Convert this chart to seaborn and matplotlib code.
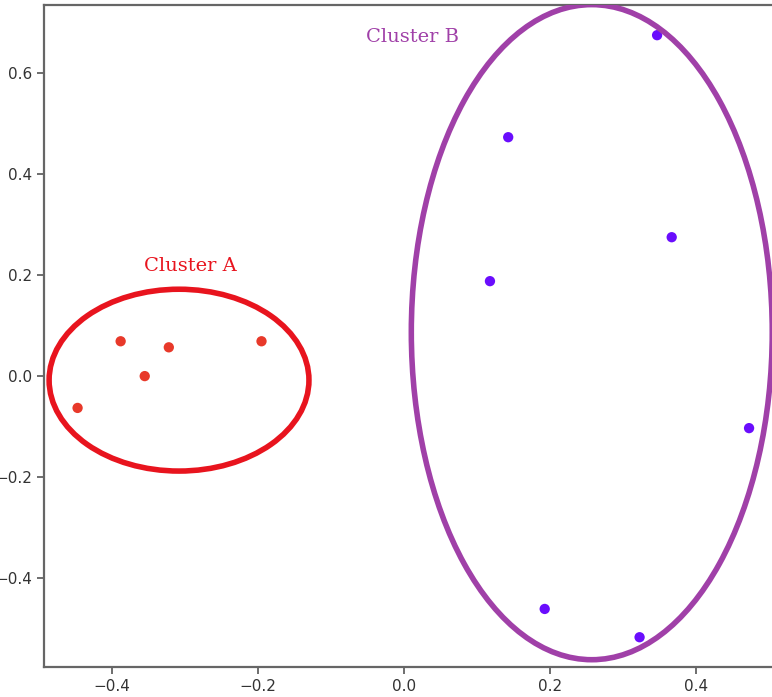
import numpy as np
import pandas as pd
import matplotlib
matplotlib.use("Agg")
import matplotlib.pyplot as plt
import seaborn as sns
from matplotlib.patches import Ellipse

# cluster points
a_x = [-0.447, -0.388, -0.355, -0.322, -0.195]
a_y = [-0.063, 0.069, 0.000, 0.057, 0.069]
b_x = [0.347, 0.143, 0.367, 0.118, 0.473, 0.193, 0.323]
b_y = [0.675, 0.473, 0.275, 0.188, -0.103, -0.461, -0.517]
cluster_names = ["Cluster A", "Cluster B"]

df = pd.DataFrame({
    "x": a_x + b_x,
    "y": a_y + b_y,
    "cluster": [cluster_names[0]] * len(a_x) + [cluster_names[1]] * len(b_x),
})

sns.set_style("white")
fig = plt.figure(figsize=(7.72, 6.97), dpi=100)
ax = fig.add_axes([0.057, 0.043, 0.953, 0.950])

pal = {"Cluster A": "#e8392a", "Cluster B": "#6a0dfd"}
sns.scatterplot(data=df, x="x", y="y", hue="cluster", palette=pal,
                s=55, edgecolor="none", legend=False, ax=ax)

ax.set_xlim(-0.493, 0.515)
ax.set_ylim(-0.576, 0.735)
ax.set_xticks([-0.4, -0.2, 0.0, 0.2, 0.4])
ax.set_yticks([-0.4, -0.2, 0.0, 0.2, 0.4, 0.6])
ax.set_xlabel("")
ax.set_ylabel("")
ax.tick_params(axis="both", labelsize=11, length=5, width=1.2,
               color="#555555", labelcolor="#333333", left=True, bottom=True)
for sp in ax.spines.values():
    sp.set_color("#666666")
    sp.set_linewidth(1.6)

# hand-drawn style cluster rings
ax.add_patch(Ellipse((-0.308, -0.008), 0.356, 0.360, fill=False,
                     edgecolor="#e8141e", lw=4, zorder=3))
ax.add_patch(Ellipse((0.2575, 0.087), 0.4945, 1.297, fill=False,
                     edgecolor="#a040a8", lw=4, zorder=3))

ax.text(-0.293, 0.218, "Cluster A", color="#e8141e", fontsize=14,
        family="DejaVu Serif", ha="center", va="center")
ax.text(0.012, 0.671, "Cluster B", color="#a040a8", fontsize=14,
        family="DejaVu Serif", ha="center", va="center")

plt.savefig("out.png", dpi=100)
